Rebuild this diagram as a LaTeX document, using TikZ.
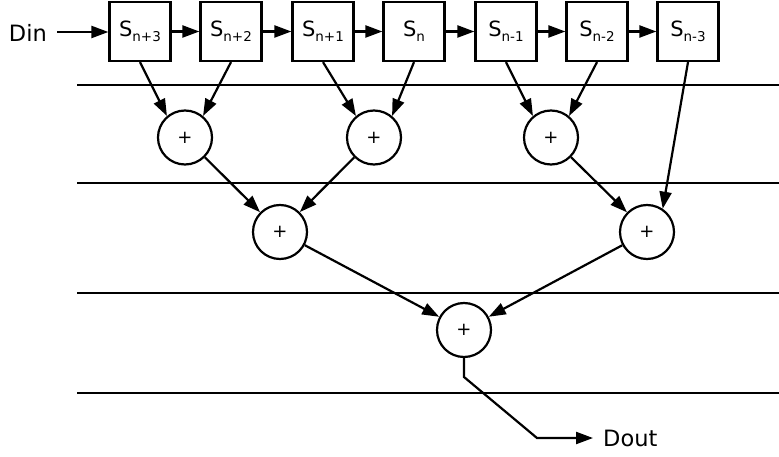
\documentclass[tikz,border=0pt]{standalone}
\usepackage{fontspec}
\setmainfont{DejaVu Sans}
\usetikzlibrary{arrows.meta}
\newcommand{\Ssub}[1]{S\raisebox{-5pt}{\fontsize{13.5}{13.5}\selectfont #1}}
\begin{document}
\begin{tikzpicture}[x=1pt,y=-1pt,
  reg/.style={draw,line width=2.2pt,minimum width=61pt,minimum height=59pt,inner sep=0pt,font=\fontsize{21}{21}\selectfont},
  adder/.style={draw,circle,line width=2.2pt,minimum size=54pt,inner sep=0pt,font=\fontsize{18}{18}\selectfont},
  conn/.style={line width=2.2pt,-{Triangle[length=17pt,width=12pt]}},
  grid/.style={line width=1.2pt},
  lbl/.style={inner sep=0pt,font=\fontsize{22.5}{22.5}\selectfont}]
\useasboundingbox (0,0) rectangle (779,457);
% stage lines
\coordinate (l1a) at (77,85);  \coordinate (l1b) at (779,85);
\coordinate (l2a) at (77,183); \coordinate (l2b) at (779,183);
\coordinate (l3a) at (77,293); \coordinate (l3b) at (779,293);
\coordinate (l4a) at (77,393); \coordinate (l4b) at (779,393);
\draw[grid] (l1a) -- (l1b);
\draw[grid] (l2a) -- (l2b);
\draw[grid] (l3a) -- (l3b);
\draw[grid] (l4a) -- (l4b);
% registers
\node[reg] (s1) at (140,31.5) {\Ssub{n+3}};
\node[reg] (s2) at (231,31.5) {\Ssub{n+2}};
\node[reg] (s3) at (323,31.5) {\Ssub{n+1}};
\node[reg] (s4) at (414,31.5) {\Ssub{n}};
\node[reg] (s5) at (506,31.5) {\Ssub{n-1}};
\node[reg] (s6) at (597,31.5) {\Ssub{n-2}};
\node[reg] (s7) at (688,31.5) {\Ssub{n-3}};
% input
\node[lbl,anchor=east] (din) at (47,33) {Din};
\coordinate (dinstart) at (57,32);
\draw[conn] (dinstart) -- (s1.west |- dinstart);
\draw[conn] (s1) -- (s2);
\draw[conn] (s2) -- (s3);
\draw[conn] (s3) -- (s4);
\draw[conn] (s4) -- (s5);
\draw[conn] (s5) -- (s6);
\draw[conn] (s6) -- (s7);
% adders
\node[adder] (a1) at (185,137.5) {+};
\node[adder] (a2) at (374,137.5) {+};
\node[adder] (a3) at (551,137.5) {+};
\node[adder] (b1) at (280,232) {+};
\node[adder] (b2) at (647,232) {+};
\node[adder] (c1) at (464,330) {+};
% connections
\draw[conn] (s1.south) -- (a1.130);
\draw[conn] (s2.south) -- (a1.50);
\draw[conn] (s3.south) -- (a2.130);
\draw[conn] (s4.south) -- (a2.50);
\draw[conn] (s5.south) -- (a3.130);
\draw[conn] (s6.south) -- (a3.50);
\draw[conn] (s7.south) -- (b2.56);
\draw[conn] (a1) -- (b1);
\draw[conn] (a2) -- (b1);
\draw[conn] (a3) -- (b2);
\draw[conn] (b1) -- (c1);
\draw[conn] (b2) -- (c1);
% output
\node[lbl,anchor=west] (dout) at (603,438) {Dout};
\coordinate (k1) at (464,377);
\coordinate (k2) at (537,438);
\draw[conn,shorten >=10pt] (c1.south) -- (k1) -- (k2) -- (dout.west);
\end{tikzpicture}
\end{document}
